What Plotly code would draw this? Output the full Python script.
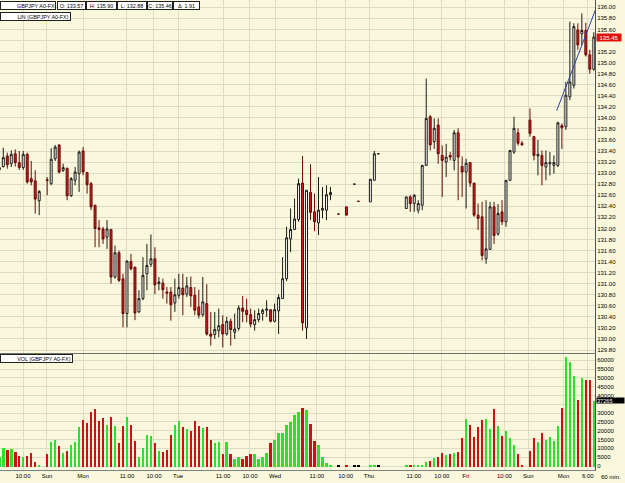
import plotly.graph_objects as go

# ---------------- DATA ----------------
# bar index (hourly bars, 60 min) ; None = no bar in the feed
opens = [133.06,133.12,133.31,133.17,133.35,133.19,133.10,133.34,132.90,132.86,
         132.50,None,132.88,132.81,133.26,133.51,133.05,133.09,132.59,132.87,
         132.99,133.40,133.01,132.81,132.42,132.01,131.99,131.84,131.98,131.12,
         131.56,131.09,130.46,131.40,131.30,130.49,130.73,131.18,131.35,131.45,
         131.00,131.01,130.85,130.85,130.65,130.79,130.92,130.81,130.93,130.79,
         130.58,130.44,130.64,130.09,130.08,130.15,130.26,130.09,130.32,130.12,
         130.19,130.56,130.52,130.44,130.26,130.35,130.46,130.52,130.53,130.32,
         130.51,130.73,131.09,131.81,131.98,132.16,132.82,130.20,132.65,132.30,
         132.10,132.33,132.33,132.61,None,132.26,None,132.39,None,132.80,
         132.49,None,None,132.48,132.87,133.35,None,None,None,None,
         None,None,132.36,132.57,132.45,132.33,132.42,133.14,134.02,133.57,
         133.87,133.32,133.20,133.32,133.23,133.73,133.12,133.02,133.19,132.82,
         132.24,132.21,131.45,131.62,132.39,131.90,132.30,132.12,132.87,133.38,
         133.73,133.54,None,133.96,133.66,133.31,133.32,133.11,133.17,133.14,
         133.14,133.86,133.84,134.38,134.59,135.59,135.52,135.58,135.14,134.88]
highs = [133.14,133.46,133.37,133.41,133.43,133.40,133.40,133.37,133.22,133.05,
         132.69,None,132.93,133.45,133.51,133.52,133.17,133.09,132.93,133.11,
         133.41,133.47,133.02,132.84,132.42,132.15,132.03,132.15,131.98,131.69,
         131.60,131.18,131.42,131.54,131.30,130.88,131.48,131.72,131.89,131.66,
         131.12,131.09,130.94,130.94,131.09,131.18,131.18,131.12,131.13,130.94,
         130.89,131.12,130.99,130.49,130.49,130.55,130.43,130.40,130.37,130.46,
         130.61,130.78,130.73,130.55,130.52,130.55,130.55,130.70,130.53,130.64,
         130.81,131.48,132.03,132.36,132.54,132.90,133.31,132.69,133.16,132.63,
         132.93,132.75,132.78,132.75,None,132.26,None,132.39,None,132.80,
         132.49,None,None,132.89,133.40,133.35,None,None,None,None,
         None,None,132.57,132.60,132.62,132.51,133.14,134.71,134.05,133.99,
         133.99,133.50,133.53,133.38,133.78,133.81,133.30,133.26,133.19,132.82,
         132.45,132.48,132.51,132.48,132.48,132.44,132.51,132.87,133.41,134.02,
         133.81,133.58,None,134.17,133.66,133.60,133.41,133.41,133.38,133.32,
         133.93,133.90,134.65,135.74,135.71,135.71,135.89,135.72,135.23,135.55]
lows = [133.04,133.10,133.08,133.11,133.12,133.06,133.06,132.81,132.78,132.27,
        132.24,None,132.60,132.78,133.22,132.99,133.02,132.51,132.57,132.78,
        132.66,132.96,132.63,132.33,131.66,131.66,131.72,131.63,131.00,131.09,
        131.03,130.21,130.21,131.24,130.34,130.47,130.70,130.88,131.30,130.81,
        130.88,130.73,130.64,130.33,130.49,130.73,130.43,130.76,130.58,130.43,
        130.37,130.40,130.06,129.88,130.00,130.03,129.85,130.06,129.88,130.00,
        130.15,130.30,130.30,130.21,130.15,130.30,130.33,130.40,130.30,130.30,
        130.09,130.73,131.05,131.57,131.97,132.12,130.15,130.00,132.15,131.95,
        131.88,132.18,132.15,132.51,None,132.26,None,132.24,None,132.80,
        132.49,None,None,132.48,132.87,133.35,None,None,None,None,
        None,None,132.36,132.30,132.30,132.27,132.33,133.14,133.41,133.44,
        133.17,132.57,132.93,133.23,133.05,132.51,132.57,132.36,132.75,132.21,
        131.97,131.42,131.36,131.62,131.72,131.87,132.06,132.03,132.87,133.35,
        133.50,133.50,None,133.66,133.23,132.96,132.78,132.87,132.96,132.99,
        133.11,133.44,133.78,134.32,134.53,135.23,135.32,135.11,134.80,134.85]
closes = [133.10,133.28,133.15,133.34,133.19,133.10,133.34,132.84,132.84,132.53,
          132.67,None,132.87,133.25,133.47,133.02,133.10,132.59,132.90,133.02,
          133.38,133.02,132.79,132.39,132.00,131.98,131.81,131.99,131.12,131.56,
          131.06,130.46,131.41,131.27,130.47,130.73,131.15,131.33,131.45,130.98,
          131.03,130.89,130.83,130.62,130.80,130.93,130.80,130.96,130.78,130.52,
          130.43,130.67,130.09,130.05,130.17,130.24,130.09,130.32,130.17,130.18,
          130.56,130.50,130.44,130.27,130.35,130.46,130.52,130.54,130.32,130.53,
          130.75,131.09,131.83,131.98,132.17,132.81,130.29,132.69,132.29,132.12,
          132.33,132.36,132.61,132.65,None,132.26,None,132.24,None,132.80,
          132.49,None,None,132.89,133.35,133.35,None,None,None,None,
          None,None,132.57,132.45,132.60,132.45,133.14,133.99,133.51,133.81,
          133.35,133.23,133.29,133.29,133.73,133.29,133.02,133.18,132.82,132.24,
          132.18,131.51,131.63,132.39,131.87,132.27,132.12,132.87,133.41,133.81,
          133.54,133.51,None,133.72,133.32,133.34,133.14,133.19,133.19,133.19,
          133.91,133.82,134.41,134.65,135.65,135.32,135.58,135.14,134.88,135.46]
volumes = [5600,10500,9400,10200,8300,6200,5600,6200,7700,2800,
           600,None,7300,14100,15300,11900,7900,8900,12400,13900,
           22200,26400,24500,31100,32600,26000,27500,23700,28100,23000,
           13400,23200,28100,23500,14700,5300,10700,17700,17300,13200,
           8900,8100,9400,17700,23700,26000,22200,21100,20300,26000,
           23000,21800,22200,15300,13400,13900,7200,13900,7200,4200,
           5600,4500,5800,7200,7200,4200,5300,7900,13400,15300,
           19000,19000,23500,25000,29200,30900,33100,32000,24300,14700,
           12400,5300,1900,600,None,500,None,500,None,500,
           500,None,None,500,500,500,None,None,None,None,
           None,None,400,400,400,400,400,2800,3000,4700,
           5500,7700,6800,7300,7500,8500,16200,26900,23700,16900,
           22600,26400,26700,21500,32600,23200,17300,20300,16200,12400,
           7200,600,None,9000,16400,14100,19200,15300,16900,14700,
           23200,33300,62100,59500,51600,37800,50300,49100,49100,37265]

tick_pos = [5.94, 11.95, 20.98, 32.0, 38.77, 44.79, 56.07, 62.83, 69.1, 79.6,
            86.8, 92.66, 103.9, 110.9, 116.9, 126.6, 132.6, 141.4, 147.5]
tick_text = ["10:00", "Sun", "Mon", "11:00", "10:00", "Tue", "11:00", "10:00", "Wed", "11:00",
             "10:00", "Thu", "11:00", "10:00", "Fri", "10:00", "Sun", "Mon", "6:00"]

lin_x = [139.7, 149.4]
lin_y = [134.13, 135.95]

last_price_label = "135.45"
last_volume = 37265

price_ticks = [round(129.8 + 0.2 * i, 2) for i in range(32)]
vol_ticks = [5000 * i for i in range(13)]

header = [("GBPJPY A0-FX", 0, 56), ("O: 133.57", 57, 86), ("H: 135.90", 86, 117),
          ("L: 132.88", 117, 147), ("C: 135.46", 147, 173), ("\u0394: 1.91", 173, 200)]

# ---------------- BUILD ----------------
idx = [i for i in range(len(opens)) if opens[i] is not None]
co = [opens[i] for i in idx]
ch = [highs[i] for i in idx]
cl = [lows[i] for i in idx]
cc = [closes[i] for i in idx]

vidx = [i for i in range(len(volumes)) if volumes[i] is not None]
vv = [volumes[i] for i in vidx]
vcol = []
for i in vidx:
    if closes[i] > opens[i]:
        vcol.append("#2EE02E")
    elif closes[i] < opens[i]:
        vcol.append("#D01010")
    else:
        vcol.append("#000000")

BG = "#FAF8DC"
GRID = "#DEDCC4"
FONT = "Liberation Sans"
W, H = 625, 483
ML, MR, MT, MB = 0, 30, 0, 13
PW, PH = W - ML - MR, H - MT - MB

def px(x):
    return (x - ML) / PW

def py(y):
    return 1 - (y - MT) / PH

fig = go.Figure()
fig.add_trace(go.Candlestick(
    x=idx, open=co, high=ch, low=cl, close=cc,
    increasing=dict(line=dict(color="#1a1a1a", width=1), fillcolor="#FFFFFF"),
    decreasing=dict(line=dict(color="#6a0808", width=1), fillcolor="#D41A1A"),
    whiskerwidth=0, xaxis="x", yaxis="y", showlegend=False, hoverinfo="skip"))
fig.add_trace(go.Scatter(x=lin_x, y=lin_y, mode="lines",
                         line=dict(color="#2B3FA0", width=1),
                         xaxis="x", yaxis="y", showlegend=False, hoverinfo="skip"))
fig.add_trace(go.Bar(x=vidx, y=vv, marker=dict(color=vcol, line=dict(width=0)),
                     width=0.62, xaxis="x2", yaxis="y2", showlegend=False,
                     hoverinfo="skip"))

xr = [0.175, 149.3]
price_dom = [py(352.5), 1]
vol_dom = [0, py(353.5)]
common_x = dict(range=xr, tickvals=tick_pos, showgrid=True, gridcolor=GRID,
                gridwidth=1, zeroline=False, ticks="", fixedrange=True)

# labels hidden behind the last-value boxes in the reference
price_text = ["" if abs(v - 135.40) < 1e-6 else "%.2f" % v for v in price_ticks]
vol_text = ["" if v == 35000 else str(v) for v in vol_ticks]

fig.update_layout(
    width=W, height=H, margin=dict(l=ML, r=MR, t=MT, b=MB),
    paper_bgcolor=BG, plot_bgcolor=BG, bargap=0,
    font=dict(family=FONT, size=6, color="#000000"),
    xaxis=dict(**common_x, domain=[0, 1], anchor="y", showticklabels=False,
               rangeslider=dict(visible=False), showline=True,
               linecolor="#707070", linewidth=1),
    xaxis2=dict(**common_x, domain=[0, 1], anchor="y2", matches="x",
                ticktext=tick_text, showticklabels=True,
                tickfont=dict(family=FONT, size=6), showline=True,
                linecolor="#808080", linewidth=1),
    yaxis=dict(domain=price_dom, range=[129.755, 136.132], side="right",
               tickvals=price_ticks, ticktext=price_text,
               showgrid=True, gridcolor=GRID, zeroline=False, ticks="",
               showline=True, linecolor="#505050", linewidth=1,
               tickfont=dict(family=FONT, size=6), anchor="x"),
    yaxis2=dict(domain=vol_dom, range=[-2260, 63840], side="right",
                tickvals=vol_ticks, ticktext=vol_text,
                showgrid=True, gridcolor=GRID, zeroline=False, ticks="",
                showline=True, linecolor="#505050", linewidth=1,
                tickfont=dict(family=FONT, size=6), anchor="x2"),
)

HF = 5.4
ann = []
for text, x0, x1 in header:
    ann.append(dict(text=text, xref="paper", yref="paper", x=px(x0), y=py(1.5),
                    xanchor="left", yanchor="top", showarrow=False,
                    width=x1 - x0 - 2, height=7, align="right" if x0 == 0 else "center",
                    bgcolor="#FFFFFF", bordercolor="#202020", borderwidth=1, borderpad=0,
                    font=dict(family=FONT, size=HF, color="#000000")))
ann.append(dict(text="LIN (GBPJPY A0-FX) ", xref="paper", yref="paper", x=px(0), y=py(12),
                xanchor="left", yanchor="top", showarrow=False, width=69, height=7,
                align="right", bgcolor="#FFFFFF", bordercolor="#202020", borderwidth=1,
                borderpad=0, font=dict(family=FONT, size=HF)))
ann.append(dict(text="VOL (GBPJPY A0-FX) ", xref="paper", yref="paper", x=px(0), y=py(353.5),
                xanchor="left", yanchor="top", showarrow=False, width=71, height=7,
                align="right", bgcolor="#FFFFFF", bordercolor="#202020", borderwidth=1,
                borderpad=0, font=dict(family=FONT, size=HF)))
ann.append(dict(text=last_price_label, xref="paper", yref="y", x=px(596), y=135.45,
                xanchor="left", yanchor="middle", showarrow=False, width=24, height=7,
                bgcolor="#E01010", borderpad=0, font=dict(family=FONT, size=6, color="#FFFFFF")))
ann.append(dict(text=str(last_volume), xref="paper", yref="y2", x=px(596), y=last_volume,
                xanchor="left", yanchor="middle", showarrow=False, width=27, height=5,
                align="left", bgcolor="#000000", borderpad=0,
                font=dict(family=FONT, size=5.6, color="#FFFFFF")))
ann.append(dict(text="60 min.", xref="paper", yref="paper", x=px(599), y=py(477),
                xanchor="left", yanchor="middle", showarrow=False,
                font=dict(family=FONT, size=6)))
fig.update_layout(annotations=ann)

# small icons in the legend boxes
shapes = []
for yy in (5.5, 15.5, 357.5):
    shapes.append(dict(type="path", xref="paper", yref="paper",
                       path="M %f,%f L %f,%f L %f,%f L %f,%f L %f,%f" % (
                           px(2), py(yy + 2), px(4), py(yy - 1), px(6), py(yy + 1),
                           px(8), py(yy - 2), px(11), py(yy + 1)),
                       line=dict(color="#1030A0", width=1)))
fig.update_layout(shapes=shapes)

fig.write_html("out.html")
